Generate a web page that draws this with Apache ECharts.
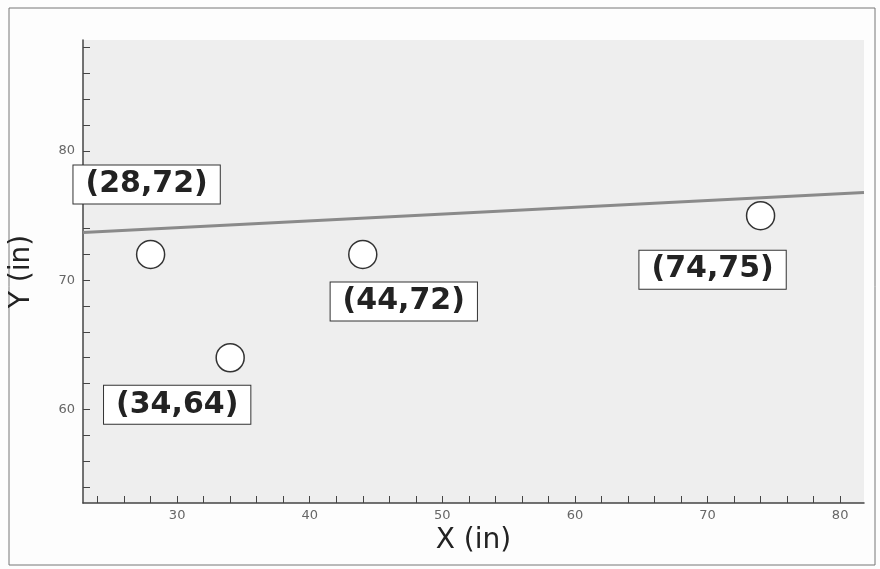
<!DOCTYPE html>
<html><head><meta charset="utf-8">
<script src="https://cdn.jsdelivr.net/npm/echarts@6/dist/echarts.min.js"></script>
<style>html,body{margin:0;padding:0;background:#fdfdfd;}#c{width:880px;height:569px;}</style>
</head><body><div id="c"></div>
<script>
// Data
const pointsX = [28, 34, 44, 74];
const pointsY = [72, 64, 72, 75];
const trendX = [22.9, 81.8];
const trendY = [73.7, 76.8];
const xTicks = [24,26,28,30,32,34,36,38,40,42,44,46,48,50,52,54,56,58,60,62,64,66,68,70,72,74,76,78,80];
const xTickLabels = [30,40,50,60,70,80];
const yTicks = [54,56,58,60,62,64,66,68,70,72,74,76,78,80,82,84,86,88];
const yTickLabels = [60,70,80];

// Label placement offsets (pixels), presentation only
const labelOffsets = [[-4,-70],[-53,47],[41,47],[-48,54]];

const chart = echarts.init(document.getElementById('c'));
const scatterData = pointsX.map((x,i)=>({
  value:[x,pointsY[i]],
  label:{offset:labelOffsets[i]}
}));
chart.setOption({
  backgroundColor:'#fdfdfd',
  animation:false,
  graphic:[{type:'rect',shape:{x:9,y:8,width:866,height:557},style:{fill:'none',stroke:'#777',lineWidth:1},silent:true,z:-1}],
  grid:{left:82,right:16,top:40,bottom:66,show:true,backgroundColor:'#eeeeee',borderWidth:0},
  xAxis:{type:'value',min:22.9,max:81.8,
    name:'X (in)',nameLocation:'middle',nameGap:22,
    nameTextStyle:{fontSize:28,color:'#222',fontFamily:'DejaVu Sans',verticalAlign:'top'},
    axisLine:{show:true,lineStyle:{color:'#444',width:1.5}},
    axisTick:{show:true,inside:true,length:7,customValues:xTicks,lineStyle:{color:'#444'}},
    axisLabel:{customValues:xTickLabels,color:'#666',fontSize:13,fontFamily:'DejaVu Sans',margin:6},
    splitLine:{show:false}},
  yAxis:{type:'value',min:52.75,max:88.6,
    name:'Y (in)',nameLocation:'middle',nameGap:47,
    nameTextStyle:{fontSize:28,color:'#222',fontFamily:'DejaVu Sans'},
    axisLine:{show:true,lineStyle:{color:'#444',width:1.5}},
    axisTick:{show:true,inside:true,length:7,customValues:yTicks,lineStyle:{color:'#444'}},
    axisLabel:{customValues:yTickLabels,color:'#666',fontSize:13,fontFamily:'DejaVu Sans',margin:8},
    splitLine:{show:false}},
  series:[
    {type:'line',data:trendX.map((x,i)=>[x,trendY[i]]),showSymbol:false,symbol:'none',
     lineStyle:{color:'#8a8a8a',width:3},z:2},
    {type:'scatter',data:scatterData,symbol:'circle',symbolSize:28,
     itemStyle:{color:'#ffffff',borderColor:'#333',borderWidth:1.5,opacity:1},z:3,
     label:{show:true,position:'inside',
       formatter:p=>'('+p.value[0]+','+p.value[1]+')',
       fontFamily:'DejaVu Sans',fontWeight:'bold',fontSize:30,color:'#222',
       backgroundColor:'#ffffff',borderColor:'#333',borderWidth:1,padding:[4,12,4,12]}}
  ]
});
</script></body></html>
